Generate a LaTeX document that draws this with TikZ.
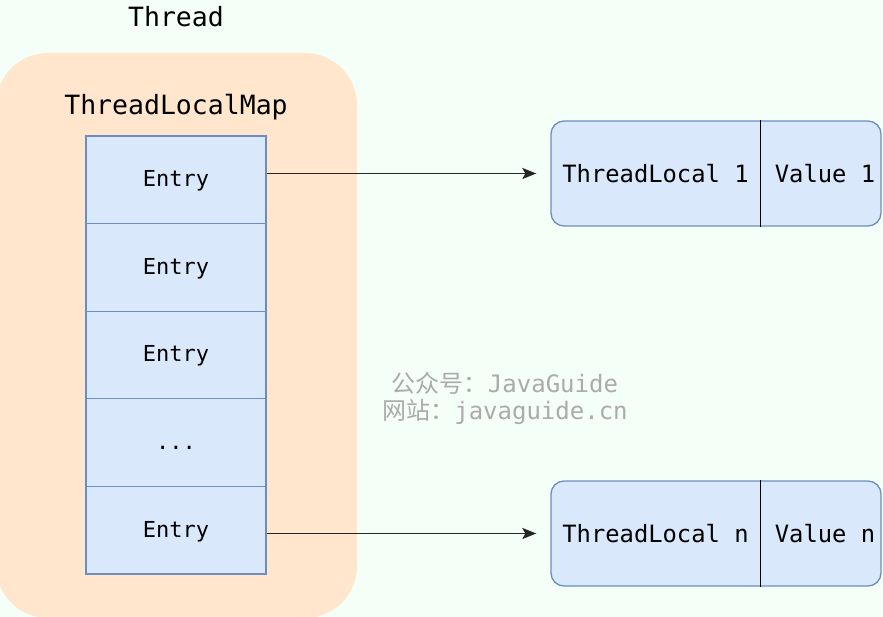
\documentclass[tikz,border=0pt]{standalone}
\usepackage{fontspec}
\setmonofont{DejaVu Sans Mono}
\newfontfamily\cjk{Noto Sans CJK SC}
\usetikzlibrary{arrows.meta}
\definecolor{bg}{HTML}{F4FFF8}
\definecolor{orfill}{HTML}{FFE6CC}
\definecolor{blfill}{HTML}{DAE8FC}
\definecolor{blline}{HTML}{6C8EBF}
\definecolor{wm}{HTML}{ABABAB}
\tikzset{
  entrybox/.style={draw=blline, fill=blfill, line width=1.3pt, minimum width=180pt, minimum height=87.6pt, inner sep=0pt, text height=17pt, text depth=3pt, font=\ttfamily\fontsize{22}{26}\selectfont},
  rbox/.style={draw=blline, fill=blfill, line width=1.3pt, rounded corners=13pt, minimum width=330pt, minimum height=105pt, inner sep=0pt},
  rtext/.style={font=\ttfamily\fontsize{23.8}{28}\selectfont, inner sep=0pt},
  title/.style={font=\ttfamily\fontsize{26.5}{30}\selectfont, inner sep=0pt},
  arr/.style={draw=black!85, line width=1.9pt, -{Stealth[length=14pt,width=11pt,inset=3pt]}, shorten >=14pt},
  wmark/.style={text=wm, font=\ttfamily\fontsize{24}{28}\selectfont, inner sep=0pt}
}
\begin{document}
\begin{tikzpicture}[x=1pt,y=-1pt]
\fill[bg] (0,0) rectangle (883,617);
\useasboundingbox (0,0) rectangle (883,617);
\fill[orfill, rounded corners=52pt] (-4,53) rectangle (357,618);
\node[title] (thread) at (176,17) {Thread};
\node[title] (tlm) at (176,107) {ThreadLocalMap};
\node[entrybox] (e1) at (176,179.8) {Entry};
\node[entrybox] (e2) at (176,267.4) {Entry};
\node[entrybox] (e3) at (176,355.0) {Entry};
\node[entrybox] (e4) at (176,442.6) {...};
\node[entrybox] (e5) at (176,530.2) {Entry};
\node[rbox] (b1) at (716,173.5) {};
\node[rbox] (b2) at (716,533.5) {};
\draw[black, line width=1.3pt] ([xshift=210pt]b1.north west) -- ([xshift=210pt]b1.south west);
\draw[black, line width=1.3pt] ([xshift=210pt]b2.north west) -- ([xshift=210pt]b2.south west);
\node[rtext] (tl1) at (655.5,173.5) {ThreadLocal 1};
\node[rtext] (v1) at (825,173.5) {Value 1};
\node[rtext] (tln) at (655.5,533.5) {ThreadLocal n};
\node[rtext] (vn) at (825,533.5) {Value n};
\draw[arr] (e1.east |- b1.west) -- (b1.west);
\draw[arr] (e5.east |- b2.west) -- (b2.west);
\node[wmark] (wm1) at (505,383) {{\cjk 公众号：}JavaGuide};
\node[wmark] (wm2) at (505,412) {{\cjk 网站：}javaguide.cn};
\end{tikzpicture}
\end{document}
